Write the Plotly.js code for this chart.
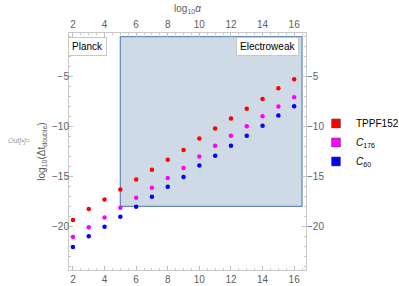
<!DOCTYPE html>
<html>
<head>
<meta charset="utf-8">
<script src="https://cdn.plot.ly/plotly-3.0.1.min.js"></script>
<style>html,body{margin:0;padding:0;background:#fff;}#chart{width:399px;height:286px;}</style>
</head>
<body>
<div id="chart"></div>
<script>
const log10Alpha = [2,3,4,5,6,7,8,9,10,11,12,13,14,15,16];
const tppf152 = [-19.36,-18.27,-17.3,-16.3,-15.3,-14.33,-13.33,-12.35,-11.2,-10.2,-9.2,-8.22,-7.23,-6.17,-5.27];
const c176 = [-21.06,-20.1,-19.1,-18.13,-17.13,-16.13,-15.15,-14.15,-13.0,-11.93,-10.93,-9.98,-8.97,-8.0,-7.07];
const c60 = [-22.06,-21.0,-20.03,-19.03,-18.03,-17.03,-16.03,-15.05,-13.9,-12.93,-11.93,-10.93,-9.93,-8.9,-7.97];
const seriesNames = ["TPPF152", "<i>C</i><sub>176</sub>", "<i>C</i><sub>60</sub>"];
const seriesColors = ["#ff0000", "#ff00ff", "#0000ff"];
const xTicks = [2,4,6,8,10,12,14,16];
const yTicks = [-20,-15,-10,-5];
const yTickText = ["\u221220","\u221215","\u221210","\u22125"];
const electroweak = {x0: 5, x1: 16.5, y0: -18, y1: -1};

const seriesData = [tppf152, c176, c60];
const traces = [];
seriesData.forEach((ys, i) => {
  traces.push({
    x: log10Alpha, y: ys, type: 'scatter', mode: 'markers',
    marker: {color: seriesColors[i], size: 4.5},
    showlegend: false, hoverinfo: 'skip'
  });
});
seriesData.forEach((ys, i) => {
  traces.push({
    x: [null], y: [null], type: 'scatter', mode: 'markers',
    name: seriesNames[i],
    marker: {color: seriesColors[i], size: 9, symbol: 'square', line: {width: 0.5, color: '#555'}},
    showlegend: true
  });
});
traces.push({
  x: log10Alpha, y: tppf152, xaxis: 'x2', yaxis: 'y2', type: 'scatter', mode: 'markers',
  marker: {opacity: 0}, showlegend: false, hoverinfo: 'skip'
});

const FONT = 'Liberation Sans, Arial, sans-serif';
const tickFont = {family: FONT, size: 10, color: '#5e5e5e'};
const xRange = [1.75, 16.75];
const yRange = [-24.37, -0.63];
const common = {
  showgrid: false, zeroline: false, showline: true, linecolor: '#c8c8c8', linewidth: 1,
  ticks: 'inside', ticklen: 4, tickcolor: '#c0c0c0', tickwidth: 1,
  tickfont: tickFont, fixedrange: true, automargin: false
};

const layout = {
  width: 399, height: 286,
  margin: {l: 69, r: 93, t: 33, b: 16},
  paper_bgcolor: '#fff', plot_bgcolor: '#fff',
  font: {family: FONT},
  xaxis: Object.assign({}, common, {
    range: xRange, tickvals: xTicks, side: 'bottom',
    minor: {dtick: 0.5, ticks: 'inside', ticklen: 2, tickcolor: '#c8c8c8'}
  }),
  xaxis2: Object.assign({}, common, {
    range: xRange, tickvals: xTicks, side: 'top', overlaying: 'x',
    minor: {dtick: 0.5, ticks: 'inside', ticklen: 2, tickcolor: '#c8c8c8'},
    title: {text: 'log<sub>10</sub><i>\u03b1</i>', font: {family: FONT, size: 10, color: '#5e5e5e'}, standoff: 4}
  }),
  yaxis: Object.assign({}, common, {
    range: yRange, tickvals: yTicks, ticktext: yTickText, side: 'left', ticklabelstandoff: -3,
    minor: {dtick: 1, ticks: 'inside', ticklen: 2, tickcolor: '#c8c8c8'},
    title: {text: 'log<sub>10</sub>(\u0394t<sub>double</sub>)', font: {family: FONT, size: 10, color: '#5e5e5e'}, standoff: 4}
  }),
  yaxis2: Object.assign({}, common, {
    range: yRange, tickvals: yTicks, ticktext: yTickText, side: 'right', overlaying: 'y', ticklabelstandoff: -2,
    minor: {dtick: 1, ticks: 'inside', ticklen: 2, tickcolor: '#c8c8c8'}
  }),
  shapes: [{
    type: 'rect', xref: 'x', yref: 'y', layer: 'below',
    x0: electroweak.x0, x1: electroweak.x1, y0: electroweak.y0, y1: electroweak.y1,
    fillcolor: '#cfdae7', line: {color: '#6b8cba', width: 1.3}
  }],
  annotations: [
    {xref: 'x', yref: 'y', x: 2.95, y: -2.03, text: 'Planck', showarrow: false,
     font: {size: 10, color: '#000'}, bgcolor: '#fff', bordercolor: '#c8c8c8', borderwidth: 1, borderpad: 3},
    {xref: 'x', yref: 'y', x: 14.29, y: -2.03, text: 'Electroweak', showarrow: false,
     font: {size: 10, color: '#000'}, bgcolor: '#fff', bordercolor: '#c8c8c8', borderwidth: 1, borderpad: 3},
    {xref: 'paper', yref: 'paper', x: -0.21, y: 0.545, xanchor: 'center', yanchor: 'middle',
     text: '<i>Out[\u2022]=</i>', showarrow: false, font: {size: 7, color: '#9a9a9a'}}
  ],
  legend: {
    xref: 'container', yref: 'container',
    x: 0.792, y: 0.619, xanchor: 'left', yanchor: 'top',
    font: {size: 10, color: '#000'}, bgcolor: 'rgba(0,0,0,0)',
    itemwidth: 30, tracegroupgap: 0
  },
  showlegend: true
};

Plotly.newPlot('chart', traces, layout, {displayModeBar: false, staticPlot: true});
</script>
</body>
</html>
